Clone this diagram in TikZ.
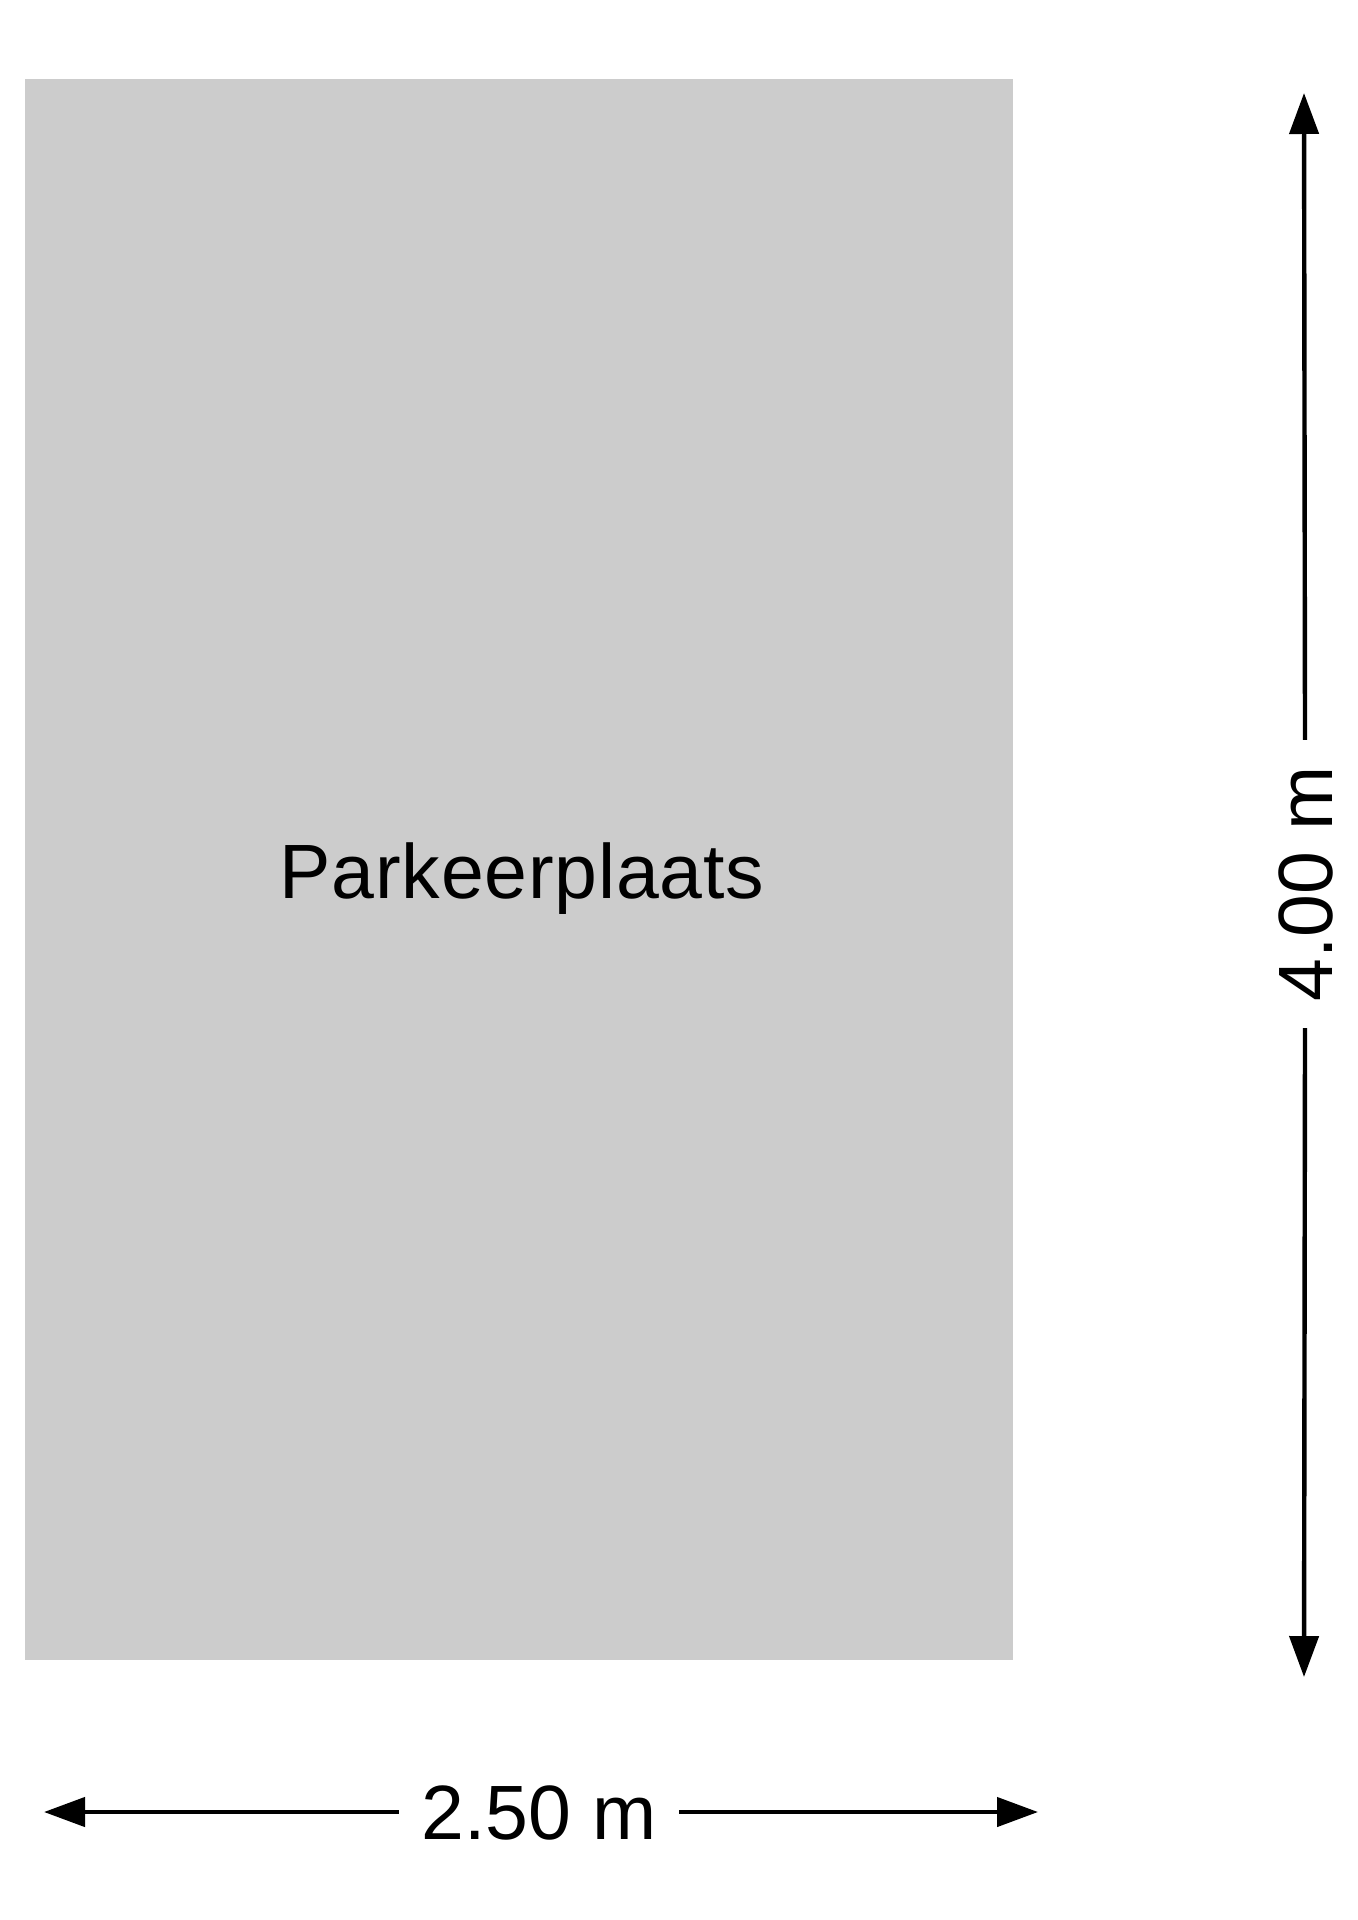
\documentclass[tikz,border=0pt]{standalone}
\usepackage{fontspec}
\setmainfont{Liberation Sans}
\usetikzlibrary{arrows.meta}
\definecolor{lotgray}{HTML}{CCCCCC}
\tikzset{
  dimline/.style={line width=2.2pt, black},
  dimtip/.style={-{Triangle[length=20.5pt,width=14.5pt]}},
  dimtext/.style={font=\fontsize{38.5pt}{46pt}\selectfont, text height=27.5pt, text depth=0pt, inner ysep=0pt, inner xsep=11pt},
  roomtext/.style={font=\fontsize{38.5pt}{46pt}\selectfont\addfontfeatures{LetterSpace=1}, inner sep=0pt, anchor=base}
}
\begin{document}
\begin{tikzpicture}[x=0.5pt,y=-0.5pt]
  \useasboundingbox (0,0) rectangle (1358,1920);
  \fill[lotgray] (25,79) rectangle (1013,1660);
  \node[roomtext] (room) at (522,898) {Parkeerplaats};
  % horizontal dimension
  \coordinate (hl) at (44,1812);
  \coordinate (hr) at (1038,1812);
  \node[dimtext] (hlbl) at (539,1812) {2.50 m};
  \draw[dimline,dimtip] (hlbl.west) -- (hl);
  \draw[dimline,dimtip] (hlbl.east) -- (hr);
  % vertical dimension
  \coordinate (vt) at (1304,93);
  \coordinate (vb) at (1304,1677);
  \node[dimtext, rotate=90, inner xsep=13pt] (vlbl) at (1305,884) {4.00 m};
  \draw[dimline,dimtip] (vlbl.east) -- (vt);
  \draw[dimline,dimtip] (vlbl.west) -- (vb);
\end{tikzpicture}
\end{document}
